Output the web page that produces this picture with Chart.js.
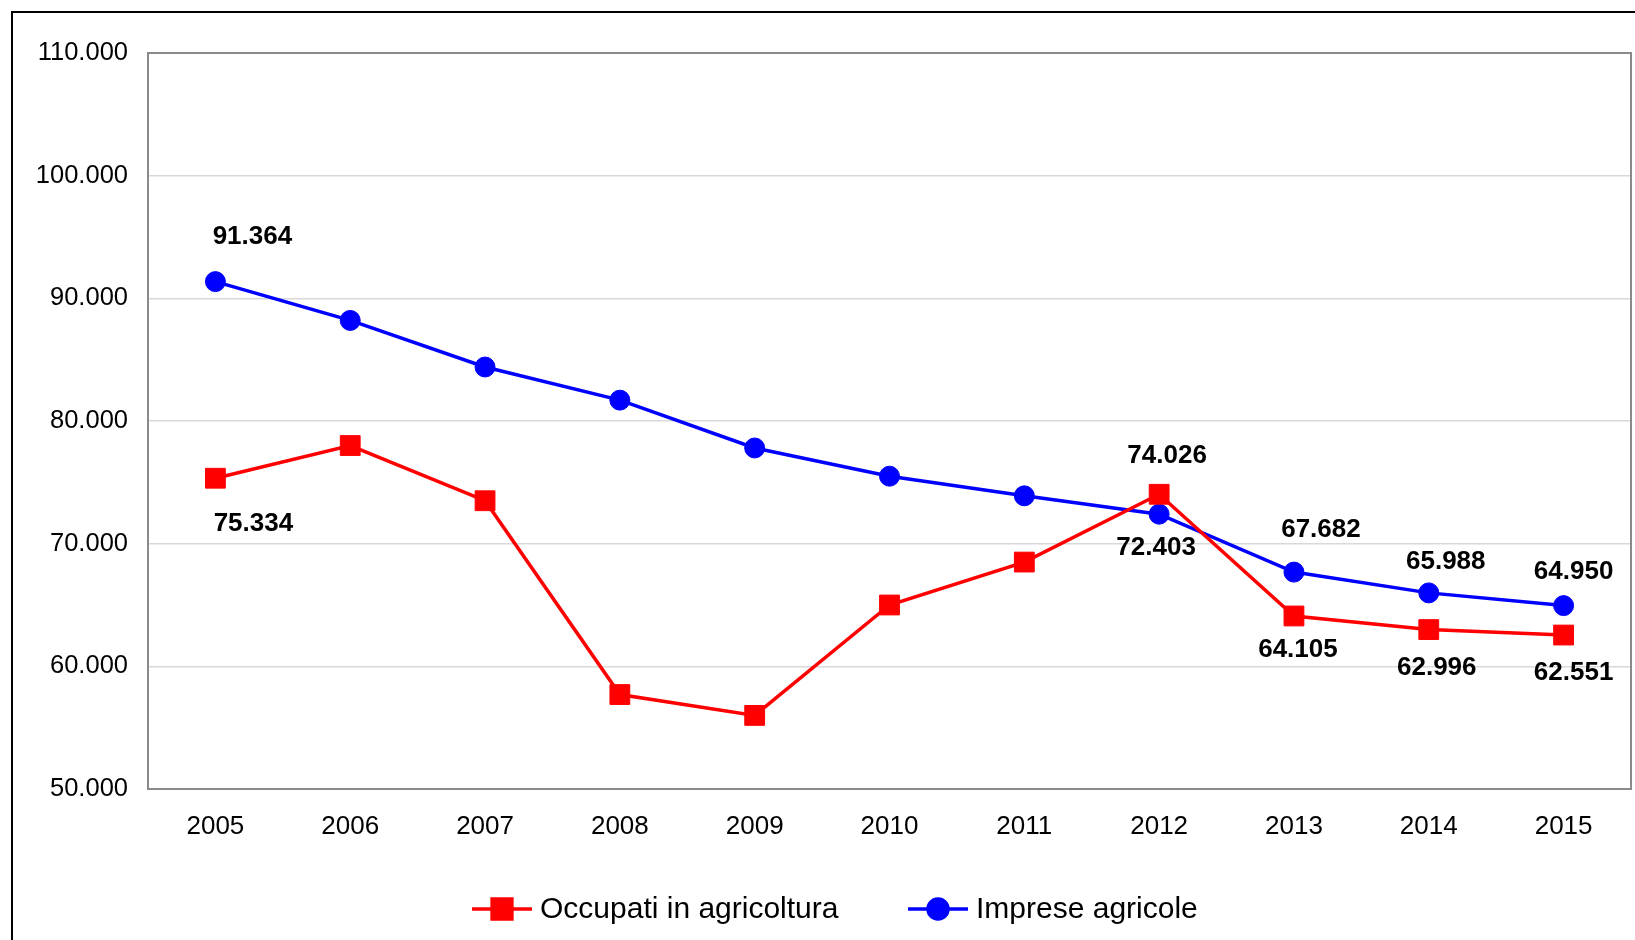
<!DOCTYPE html>
<html>
<head>
<meta charset="utf-8">
<script src="https://cdn.jsdelivr.net/npm/chart.js@4/dist/chart.umd.min.js"></script>
<style>
  html, body { margin: 0; padding: 0; background: #fff; overflow: hidden; }
  #wrap { position: relative; width: 1635px; height: 940px; }
  #frame { position: absolute; left: 11px; top: 11px; right: -20px; bottom: -20px; border: 2px solid #000; }
  canvas { position: absolute; left: 0; top: 0; }
</style>
</head>
<body>
<div id="wrap">
  <div id="frame"></div>
  <canvas id="chart" width="1635" height="940"></canvas>
</div>
<script>
const years = ['2005', '2006', '2007', '2008', '2009', '2010', '2011', '2012', '2013', '2014', '2015'];
const occupati = [75334, 78000, 73500, 57700, 56000, 65000, 68500, 74026, 64105, 62996, 62551];
const imprese = [91364, 88200, 84400, 81700, 77800, 75500, 73900, 72403, 67682, 65988, 64950];
const seriesNames = ['Occupati in agricoltura', 'Imprese agricole'];
const yTicks = [50000, 60000, 70000, 80000, 90000, 100000, 110000];

// which points carry a value label, and where the label sits (dx, dy from the point)
const labelSpots = [
  { 0: [38, 46], 7: [8, -38], 8: [4, 34], 9: [8, 38], 10: [10, 38] },
  { 0: [37, -45], 7: [-3, 34], 8: [27, -42], 9: [17, -31], 10: [10, -34] },
];

const FONT = '"Liberation Sans", Arial, sans-serif';
Chart.defaults.font.family = FONT;
Chart.defaults.color = '#000000';

const fmt = (v) => String(Math.round(v)).replace(/\B(?=(\d{3})+(?!\d))/g, '.');

const extras = {
  id: 'extras',
  afterDatasetsDraw(chart) {
    const { ctx, chartArea } = chart;
    ctx.save();
    // plot frame
    ctx.strokeStyle = '#8a8a8a';
    ctx.lineWidth = 2;
    ctx.strokeRect(chartArea.left, chartArea.top, chartArea.right - chartArea.left, chartArea.bottom - chartArea.top);

    // value labels
    ctx.font = 'bold 26px ' + FONT;
    ctx.fillStyle = '#000';
    ctx.textAlign = 'center';
    ctx.textBaseline = 'middle';
    chart.data.datasets.forEach((ds, i) => {
      const meta = chart.getDatasetMeta(i);
      Object.keys(labelSpots[i]).forEach((k) => {
        const pt = meta.data[k];
        const [dx, dy] = labelSpots[i][k];
        ctx.fillText(fmt(ds.data[k]), pt.x + dx, pt.y + dy);
      });
    });

    // legend, line + marker like the original
    const legendY = 909;
    const legendX = [472, 908];
    ctx.font = '30px ' + FONT;
    ctx.textAlign = 'left';
    chart.data.datasets.forEach((ds, i) => {
      const x0 = legendX[i];
      ctx.strokeStyle = ds.borderColor;
      ctx.lineWidth = 3.5;
      ctx.beginPath();
      ctx.moveTo(x0, legendY);
      ctx.lineTo(x0 + 60, legendY);
      ctx.stroke();
      Chart.helpers.drawPoint(ctx, {
        pointStyle: ds.pointStyle,
        radius: ds.pointRadius,
        borderWidth: 1,
      }, x0 + 30, legendY);
      ctx.fillStyle = ds.borderColor;
      ctx.fill();
      ctx.fillStyle = '#000';
      ctx.fillText(ds.label, x0 + 68, legendY + 1);
    });
    ctx.restore();
  },
};

const ctx = document.getElementById('chart').getContext('2d');
const chart = new Chart(ctx, {
  type: 'line',
  data: {
    labels: years,
    datasets: [
      {
        label: seriesNames[0],
        data: occupati,
        borderColor: '#ff0000',
        backgroundColor: '#ff0000',
        borderWidth: 3.5,
        pointStyle: 'rect',
        pointRadius: 14,
        pointBorderWidth: 1,
        pointHoverRadius: 14,
        tension: 0,
      },
      {
        label: seriesNames[1],
        data: imprese,
        borderColor: '#0000ff',
        backgroundColor: '#0000ff',
        borderWidth: 3.5,
        pointStyle: 'circle',
        pointRadius: 10,
        pointBorderWidth: 1,
        pointHoverRadius: 10,
        tension: 0,
      },
    ],
  },
  options: {
    responsive: false,
    animation: false,
    devicePixelRatio: 1,
    layout: { autoPadding: false, padding: { left: 0, top: 53, right: 4, bottom: 91 } },
    plugins: {
      legend: { display: false },
      tooltip: { enabled: false },
    },
    scales: {
      x: {
        offset: true,
        grid: { display: false, drawTicks: false },
        border: { color: '#777777', width: 2 },
        ticks: { font: { size: 26 }, padding: 22, color: '#000' },
        afterFit: (scale) => { scale.height = 60; },
      },
      y: {
        min: yTicks[0],
        max: yTicks[yTicks.length - 1],
        afterBuildTicks: (scale) => { scale.ticks = yTicks.map((v) => ({ value: v })); },
        grid: { color: '#d9d9d9', lineWidth: 1.5, drawTicks: false },
        border: { color: '#8a8a8a', width: 2 },
        ticks: { font: { size: 25.5 }, padding: 20, color: '#000', callback: (v) => fmt(v) },
        afterFit: (scale) => { scale.width = 148; },
      },
    },
  },
  plugins: [extras],
});
</script>
</body>
</html>
